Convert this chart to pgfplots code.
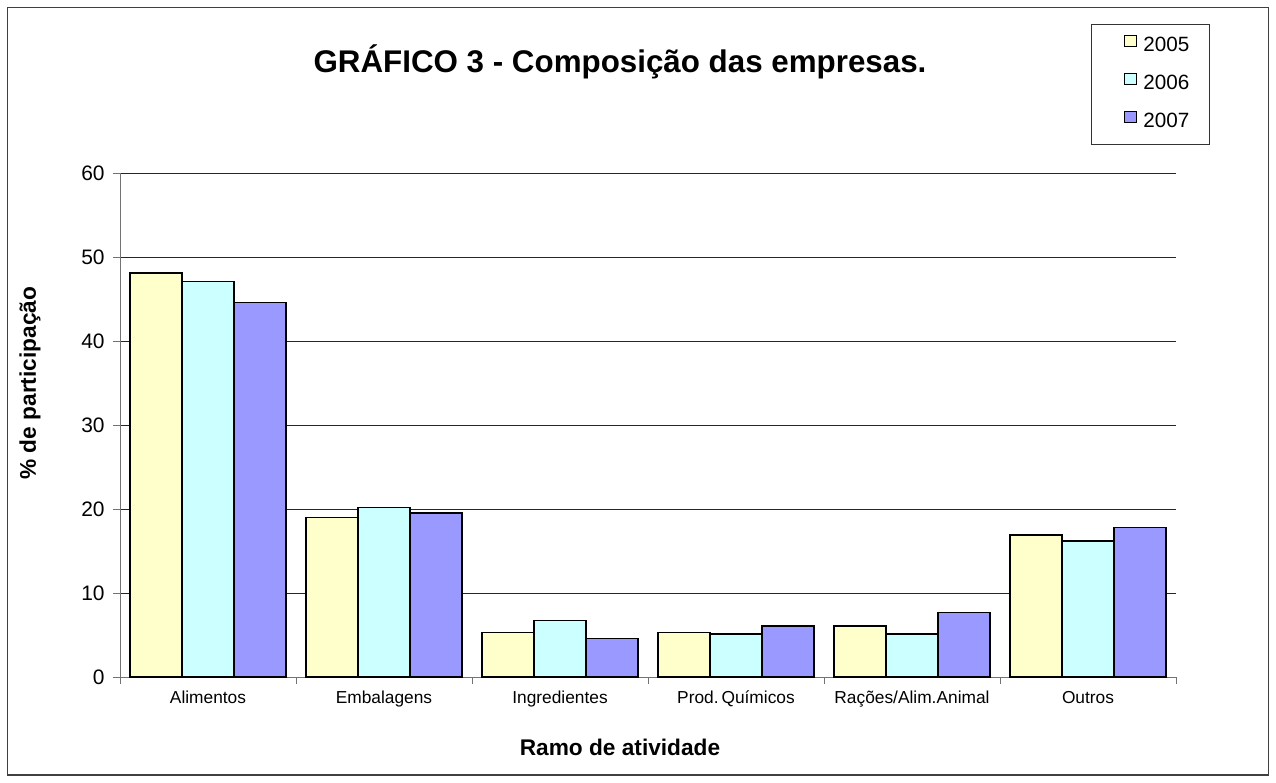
\documentclass[border=0pt]{standalone}
\usepackage{pgfplots}
\pgfplotsset{compat=1.18}
\usepackage{fontspec}
\setmainfont{Liberation Sans}
\definecolor{c2005}{HTML}{FFFFCC}
\definecolor{c2006}{HTML}{CCFFFF}
\definecolor{c2007}{HTML}{9999FF}
\begin{document}
\begin{tikzpicture}[x=0.75pt,y=-0.75pt]
\path (0,0) rectangle (1276,782);
\draw[line width=1pt, black!75] (7.5,7.5) rectangle (1268.5,775);
\begin{axis}[
  at={(90pt,-507.75pt)}, anchor=south west,
  scale only axis, width=792pt, height=378pt,
  xmin=-0.5, xmax=5.5, ymin=0, ymax=60,
  axis x line*=bottom, axis y line*=left,
  axis line style={-, line width=0.75pt, black!55},
  xtick={-0.5,0.5,...,5.5}, xticklabels={},
  extra x ticks={0,1,2,3,4,5},
  extra x tick labels={Alimentos,Embalagens,Ingredientes,Prod.\,Químicos,Rações/Alim.Animal,Outros},
  extra x tick style={tick style={draw=none}, xticklabel style={font=\fontsize{13}{15}\selectfont, yshift=-2pt}},
  ytick={0,10,...,60},
  tick align=outside, major tick length=5pt,
  tick style={line width=0.75pt, black!55},
  ymajorgrids, major grid style={line width=0.75pt, black!85},
  /pgf/number format/assume math mode=true,
  yticklabel style={font=\fontsize{15.7}{18}\selectfont, xshift=-3pt},
  title={\bfseries GRÁFICO 3 - Composição das empresas.},
  title style={font=\fontsize{23.5}{28}\selectfont, at={(axis description cs:0.4735,1.2004)}, anchor=base, yshift=-6pt},
  xlabel={\bfseries Ramo de atividade},
  xlabel style={font=\fontsize{17}{20}\selectfont, at={(axis description cs:0.4735,-0.14)}, anchor=center},
  ylabel={\bfseries \% de participação},
  ylabel style={font=\fontsize{17}{20}\selectfont, at={(axis description cs:-0.0852,0.583)}, anchor=center, rotate=0},
  legend style={at={(axis description cs:0.9195,1.2956)}, anchor=north west, draw=black!80, line width=0.75pt,
    font=\fontsize{15.5}{18}\selectfont, inner xsep=15pt, inner ysep=7.6pt, row sep=11.2pt,
    nodes={inner sep=0pt, text height=11.2pt, text depth=5pt},
    /tikz/every odd column/.style={column sep=4.5pt}},
  mybar/.style={ybar, bar width=0.295, draw=black, line width=1.1pt,
    legend image code/.code={\path (0pt,0pt); \draw[##1, draw=black, line width=0.75pt] (9pt,0.5pt) rectangle (18.5pt,9pt);}},
]
\addplot[mybar, bar shift=-0.295, fill=c2005] coordinates {(0,48.1) (1,19.0) (2,5.3) (3,5.3) (4,6.1) (5,16.9)};
\addplot[mybar, bar shift=0, fill=c2006] coordinates {(0,47.1) (1,20.2) (2,6.7) (3,5.1) (4,5.1) (5,16.2)};
\addplot[mybar, bar shift=0.295, fill=c2007] coordinates {(0,44.6) (1,19.5) (2,4.6) (3,6.1) (4,7.7) (5,17.8)};
\legend{2005,2006,2007}
\end{axis}
\end{tikzpicture}
\end{document}
